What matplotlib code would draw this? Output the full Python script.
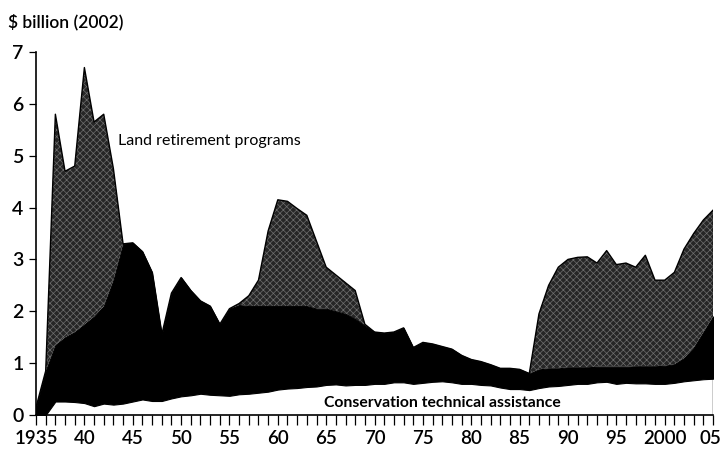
import numpy as np
import matplotlib
matplotlib.use('Agg')
import matplotlib.pyplot as plt
from matplotlib.transforms import ScaledTranslation

years = np.arange(1935, 2006)

# Conservation technical assistance ($ billion, 2002)
cta = [0.0, 0.0, 0.26, 0.26, 0.25, 0.23, 0.17, 0.22, 0.2, 0.22,
       0.26, 0.3, 0.27, 0.27, 0.32, 0.36, 0.38, 0.41, 0.39, 0.38,
       0.37, 0.4, 0.41, 0.43, 0.45, 0.49, 0.51, 0.52, 0.54, 0.55,
       0.58, 0.59, 0.57, 0.58, 0.58, 0.6, 0.6, 0.63, 0.63, 0.6,
       0.62, 0.64, 0.65, 0.63, 0.6, 0.6, 0.58, 0.57, 0.53, 0.5,
       0.5, 0.48, 0.52, 0.55, 0.56, 0.58, 0.6, 0.6, 0.63, 0.64,
       0.6, 0.62, 0.61, 0.61, 0.6, 0.6, 0.62, 0.65, 0.67, 0.69,
       0.7]

# other working-land programs (black band)
other = [0.15, 0.85, 1.09, 1.24, 1.35, 1.52, 1.73, 1.88, 2.4, 3.08,
         3.06, 2.85, 2.48, 1.28, 2.03, 2.29, 2.02, 1.79, 1.71, 1.37,
         1.68, 1.72, 1.69, 1.67, 1.65, 1.61, 1.59, 1.58, 1.56, 1.5,
         1.47, 1.41, 1.38, 1.27, 1.14, 1.0, 0.98, 0.97, 1.05, 0.7,
         0.78, 0.73, 0.67, 0.64, 0.55, 0.47, 0.45, 0.4, 0.37, 0.4,
         0.38, 0.32, 0.36, 0.35, 0.34, 0.34, 0.32, 0.32, 0.3, 0.29,
         0.33, 0.31, 0.33, 0.33, 0.34, 0.35, 0.36, 0.45, 0.63, 0.91,
         1.2]

# Land retirement programs
retire = [0.0, 0.0, 4.45, 3.2, 3.2, 4.95, 3.75, 3.7, 2.15, 0.0,
          0.0, 0.0, 0.0, 0.0, 0.0, 0.0, 0.0, 0.0, 0.0, 0.0,
          0.0, 0.03, 0.2, 0.5, 1.45, 2.05, 2.02, 1.88, 1.75, 1.3,
          0.8, 0.7, 0.6, 0.55, 0.03, 0.0, 0.0, 0.0, 0.0, 0.0,
          0.0, 0.0, 0.0, 0.0, 0.0, 0.0, 0.0, 0.0, 0.0, 0.0,
          0.0, 0.0, 1.07, 1.6, 1.95, 2.08, 2.12, 2.13, 2.0, 2.24,
          1.97, 2.0, 1.91, 2.14, 1.66, 1.65, 1.77, 2.1, 2.2, 2.16,
          2.05]

xtick_pos = np.arange(1935, 2006, 5)
xtick_lab = ['1935', '40', '45', '50', '55', '60', '65', '70', '75',
             '80', '85', '90', '95', '2000', '05']

plt.rcParams['font.family'] = ['Lato', 'DejaVu Sans']
plt.rcParams['hatch.linewidth'] = 0.5

fig = plt.figure(figsize=(7.22, 4.54), dpi=100)
ax = fig.add_axes([0.0499, 0.0859, 0.9377, 0.7996])

cta = np.array(cta)
other = np.array(other)
retire = np.array(retire)
lvl1 = cta
lvl2 = cta + other
lvl3 = lvl2 + retire

ax.fill_between(years, 0, lvl1, facecolor='white', linewidth=0)
ax.fill_between(years, lvl2, lvl3, facecolor='#262626', edgecolor='#6e6e6e',
                hatch='xxxxx', linewidth=0)
ax.fill_between(years, lvl1, lvl2, facecolor='black', edgecolor='black', linewidth=0.8)
ax.plot(years, lvl3, color='black', lw=1.0)
ax.vlines(2005, 0, lvl3[-1], color='black', lw=1.0)

ax.set_xlim(1935, 2005)
ax.set_ylim(0, 7)
ax.set_xticks(xtick_pos)
ax.set_xticklabels(xtick_lab)
ax.set_xticks(years, minor=True)
ax.set_yticks(range(0, 8))

for s in ['top', 'right']:
    ax.spines[s].set_visible(False)
ax.spines['left'].set_linewidth(1.2)
ax.spines['bottom'].set_linewidth(1.2)
ax.tick_params(axis='x', which='both', direction='out', length=7, width=0.9,
               labelsize=13.5, pad=4)
ax.tick_params(axis='y', direction='out', length=5, width=0.9, labelsize=14, pad=4)
for lab in ax.get_xticklabels() + ax.get_yticklabels():
    lab.set_fontweight('semibold')
# keep the last label inside the figure
last = ax.get_xticklabels()[-1]
last.set_transform(last.get_transform() + ScaledTranslation(-3 / 100, 0, fig.dpi_scale_trans))

ax.text(1943.5, 5.28, 'Land retirement programs', fontsize=11.5, va='center', ha='left')
ax.text(1964.8, 0.24, 'Conservation technical assistance', fontsize=11.3,
        fontweight='bold', va='center', ha='left')
fig.text(0.011, 0.952, '$ billion (2002)', fontsize=12.5, fontweight='semibold',
         va='center', ha='left')

fig.savefig('out.png', dpi=100)
